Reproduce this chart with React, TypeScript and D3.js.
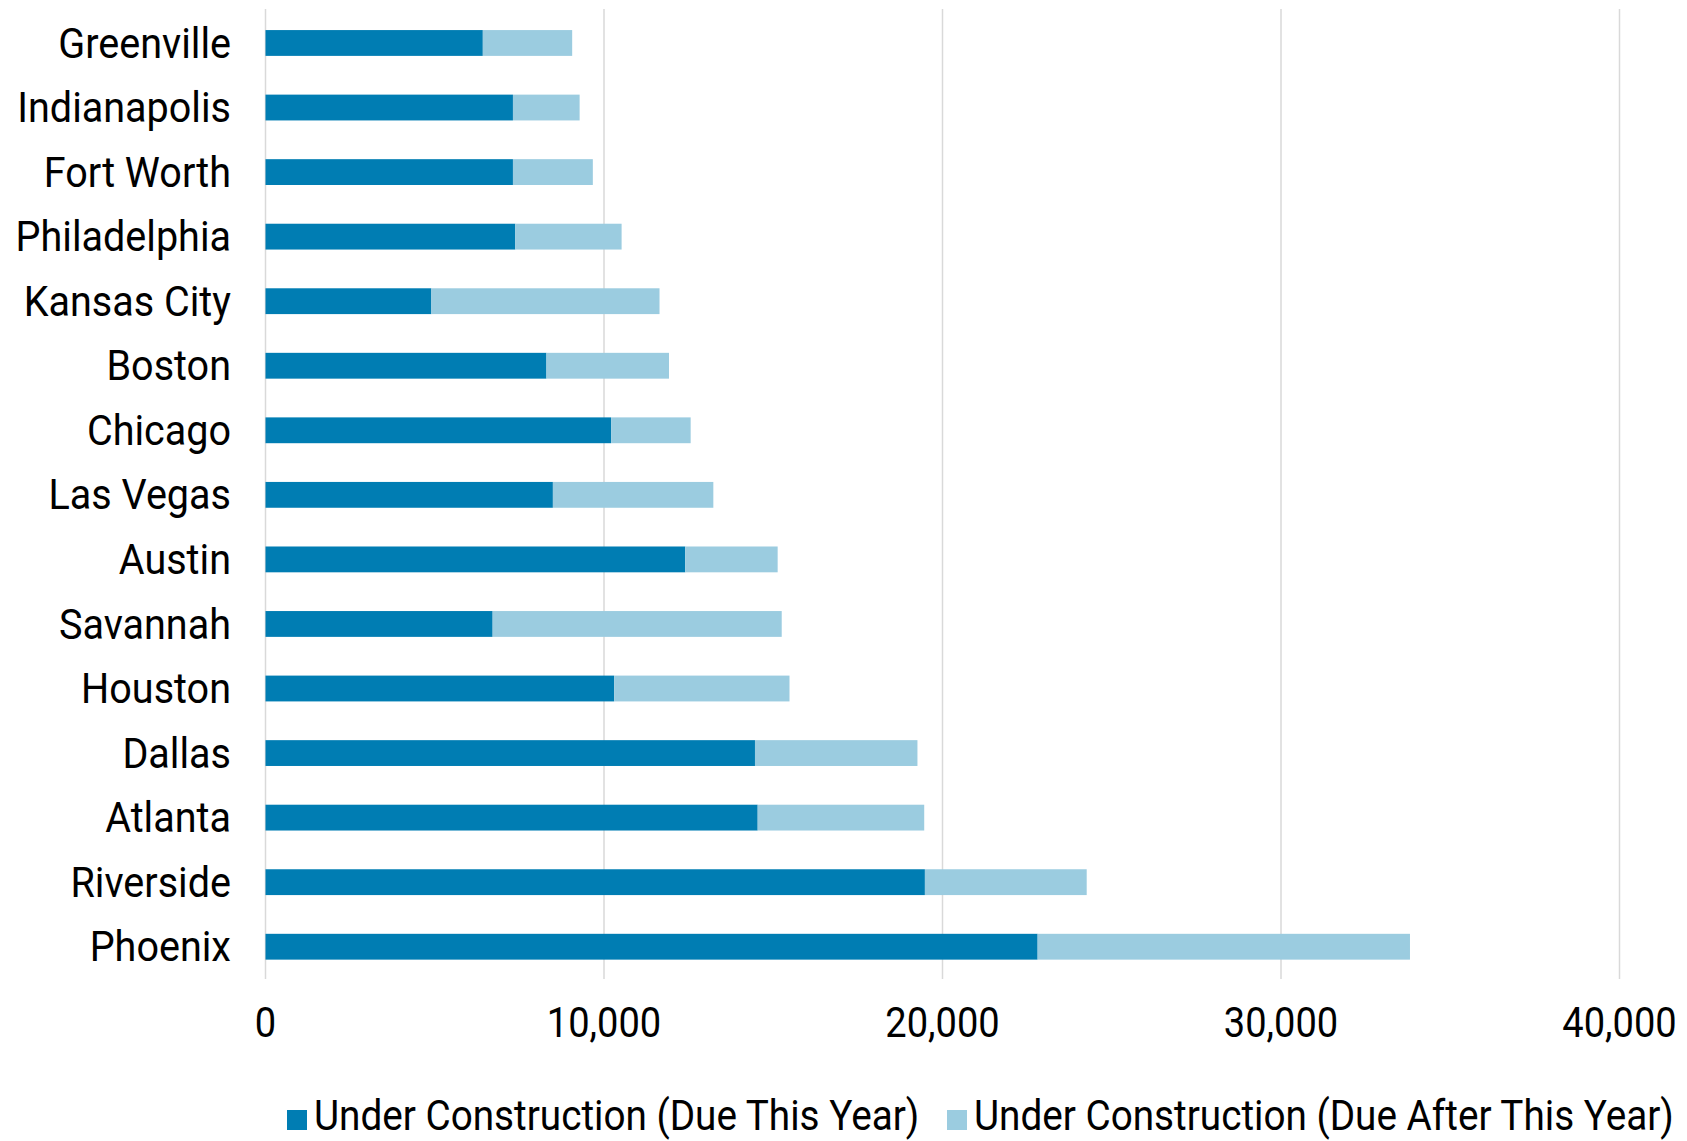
import React from "react";
import * as d3 from "d3";

const categories = [
  "Greenville", "Indianapolis", "Fort Worth", "Philadelphia", "Kansas City",
  "Boston", "Chicago", "Las Vegas", "Austin", "Savannah",
  "Houston", "Dallas", "Atlanta", "Riverside", "Phoenix",
];
const dueThisYear = [
  6420, 7310, 7310, 7380, 4900, 8300, 10210, 8490, 12400, 6710,
  10300, 14460, 14540, 19480, 22810,
];
const dueAfterThisYear = [
  2640, 1970, 2360, 3140, 6740, 3620, 2350, 4740, 2730, 8540,
  5180, 4800, 4920, 4780, 11000,
];
const xTicks = [0, 10000, 20000, 30000, 40000];
const seriesNames = [
  "Under Construction (Due This Year)",
  "Under Construction (Due After This Year)",
];
const colors = ["#007DB3", "#9BCCE0"];

const W = 1687;
const H = 1141;
const FONT = "Roboto, 'Noto Sans', sans-serif";

function Label({ x, y, sx, anchor, children }: { x: number; y: number; sx: number; anchor: string; children: any }) {
  return (
    <g transform={`translate(${x},${y}) scale(${sx},1)`}>
      <text textAnchor={anchor} dominantBaseline="central" fontFamily={FONT} fontSize={43} fill="#000">
        {children}
      </text>
    </g>
  );
}

export default function App() {
  const x = d3.scaleLinear().domain([0, 40000]).range([265.5, 1619.5]);
  const y = d3.scaleBand().domain(categories).range([10.7, 979]).paddingInner(0.6).paddingOuter(0.3);
  const fmt = d3.format(",");
  const data = categories.map((c, i) => ({ c, a: dueThisYear[i], b: dueAfterThisYear[i] }));

  return (
    <svg width={W} height={H} style={{ position: "absolute", left: 0, top: 0, background: "#fff" }}>
      {xTicks.map((t) => (
        <line key={t} x1={x(t)} x2={x(t)} y1={9} y2={979} stroke="#D9D9D9" strokeWidth={1.5} />
      ))}
      {data.map((d) => (
        <g key={d.c}>
          <rect x={x(0)} y={y(d.c)} width={x(d.a) - x(0)} height={y.bandwidth()} fill={colors[0]} />
          <rect x={x(d.a)} y={y(d.c)} width={x(d.a + d.b) - x(d.a)} height={y.bandwidth()} fill={colors[1]} />
          <Label x={231} y={(y(d.c) as number) + y.bandwidth() / 2} sx={0.92} anchor="end">
            {d.c}
          </Label>
        </g>
      ))}
      {xTicks.map((t) => (
        <Label key={t} x={x(t)} y={1022} sx={0.885} anchor="middle">
          {fmt(t)}
        </Label>
      ))}
      <g>
        <rect x={287} y={1110} width={20} height={20} fill={colors[0]} />
        <Label x={314} y={1115} sx={0.9} anchor="start">
          {seriesNames[0]}
        </Label>
        <rect x={947} y={1110} width={20} height={20} fill={colors[1]} />
        <Label x={974} y={1115} sx={0.9} anchor="start">
          {seriesNames[1]}
        </Label>
      </g>
    </svg>
  );
}
